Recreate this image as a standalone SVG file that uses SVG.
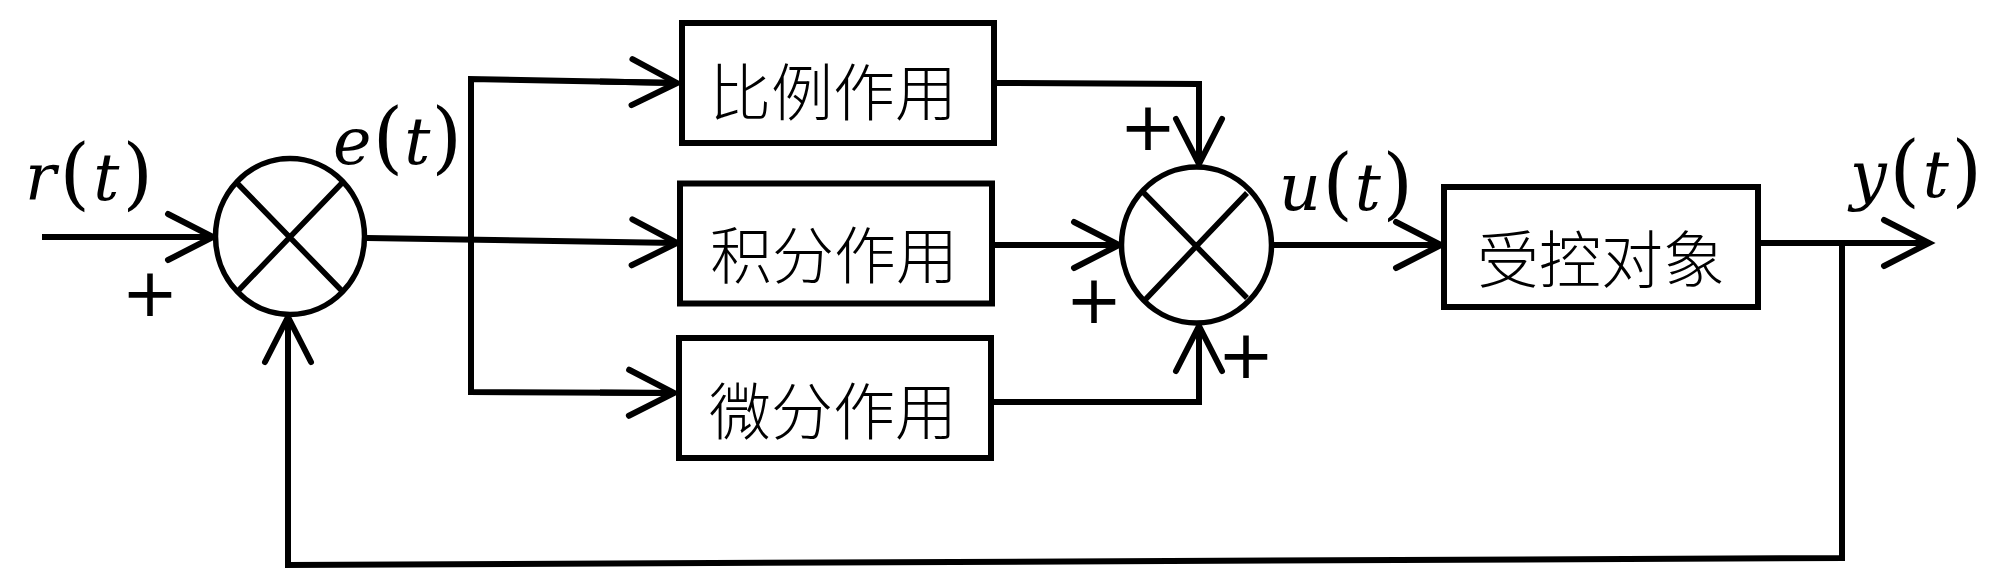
<svg xmlns="http://www.w3.org/2000/svg" width="2000" height="586" viewBox="0 0 2000 586">
<style>
.box{fill:#fff;stroke:#000;stroke-width:6}
.sum{fill:#fff;stroke:#000;stroke-width:5.5}
.x{stroke:#000;stroke-width:5.5;fill:none}
.cn{font-family:"Noto Sans CJK SC","Noto Sans CJK TC",sans-serif;font-size:62px;font-weight:300;fill:#000;text-anchor:middle;dominant-baseline:central}
.math{font-family:"DejaVu Serif",serif;font-size:65px;fill:#000}
.it{font-style:italic}
.par{font-style:normal;font-size:78px}
.plus{font-family:"DejaVu Sans",sans-serif;font-size:68px;fill:#000;text-anchor:middle;dominant-baseline:central}
.wire{fill:none;stroke:#000;stroke-width:6;stroke-linejoin:miter}
</style>
<defs>
<marker id="chev" markerUnits="userSpaceOnUse" viewBox="-52 -30 58 60" markerWidth="58" markerHeight="60" refX="0" refY="0" orient="auto" overflow="visible">
<path d="M-45,-23 L0,0 L-45,23" fill="none" stroke="#000" stroke-width="6" stroke-linecap="round" stroke-linejoin="miter"/>
</marker>
</defs>
<rect width="2000" height="586" fill="#fff"/>

<g id="connectors">
<path class="wire" d="M42,237 L213,237" marker-end="url(#chev)"/>
<path class="wire" d="M367,238 L677,243" marker-end="url(#chev)"/>
<path class="wire" d="M677,83 L471,79 L471,392 L674,393"/>
<path class="wire" d="M600,81.5 L677,83" marker-end="url(#chev)"/>
<path class="wire" d="M600,392.6 L674,393" marker-end="url(#chev)"/>
<path class="wire" d="M997,83 L1199,84 L1199,164" marker-end="url(#chev)"/>
<path class="wire" d="M995,245 L1119,245" marker-end="url(#chev)"/>
<path class="wire" d="M994,402 L1199,402 L1199,326" marker-end="url(#chev)"/>
<path class="wire" d="M1274,245 L1441,245" marker-end="url(#chev)"/>
<path class="wire" d="M1761,243 L1929,243" marker-end="url(#chev)"/>
<path class="wire" d="M1842,243 L1842,558 L288,565 L288,317" marker-end="url(#chev)"/>
</g>

<g id="sum1">
<ellipse class="sum" cx="290" cy="236.5" rx="74.5" ry="78"/>
<path class="x" d="M237,183 L343,292 M342,183 L239,290"/>
</g>

<g id="sum2">
<ellipse class="sum" cx="1196.5" cy="245" rx="75" ry="78"/>
<path class="x" d="M1143,192 L1247,298 M1247,193 L1145,300"/>
</g>

<g id="box-p">
<rect class="box" x="682" y="23" width="312" height="120"/>
<text class="cn" x="833" y="89">比例作用</text>
</g>
<g id="box-i">
<rect class="box" x="680" y="183.5" width="312" height="120"/>
<text class="cn" x="834" y="252">积分作用</text>
</g>
<g id="box-d">
<rect class="box" x="679" y="338" width="312" height="120"/>
<text class="cn" x="833" y="408">微分作用</text>
</g>
<g id="plant">
<rect class="box" x="1444" y="187" width="314" height="120"/>
<text class="cn" x="1601" y="256">受控对象</text>
</g>

<g id="labels">
<text class="math" x="25" y="200" textLength="128" lengthAdjust="spacing"><tspan class="it">r</tspan><tspan class="par">(</tspan><tspan class="it">t</tspan><tspan class="par">)</tspan></text>
<text class="math" x="333" y="164" textLength="129" lengthAdjust="spacing"><tspan class="it">e</tspan><tspan class="par">(</tspan><tspan class="it">t</tspan><tspan class="par">)</tspan></text>
<text class="math" x="1279" y="210" textLength="134" lengthAdjust="spacing"><tspan class="it">u</tspan><tspan class="par">(</tspan><tspan class="it">t</tspan><tspan class="par">)</tspan></text>
<text class="math" x="1850" y="197" textLength="132" lengthAdjust="spacing"><tspan class="it">y</tspan><tspan class="par">(</tspan><tspan class="it">t</tspan><tspan class="par">)</tspan></text>
<text class="plus" x="150" y="292">+</text>
<text class="plus" x="1148" y="126">+</text>
<text class="plus" x="1094" y="299">+</text>
<text class="plus" x="1246" y="354">+</text>
</g>
</svg>
